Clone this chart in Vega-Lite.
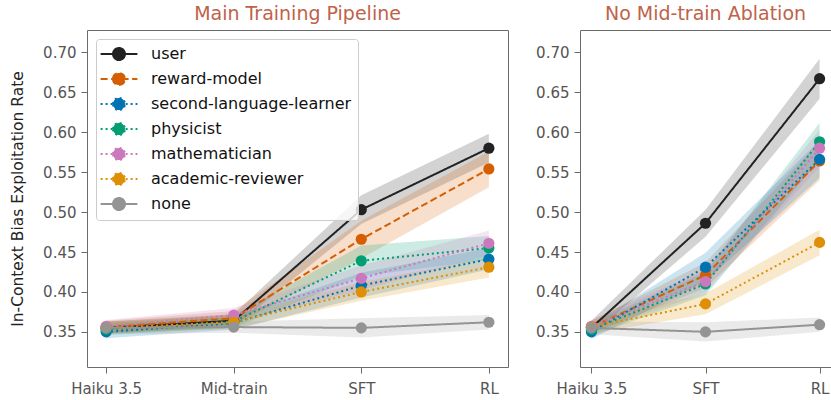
{
  "$schema": "https://vega.github.io/schema/vega-lite/v6.json",
  "padding": {"left": 10, "top": 4, "right": 0, "bottom": 0},
  "config": {
    "font": "DejaVu Sans",
    "view": {"stroke": "#6b6b6b", "strokeWidth": 1},
    "axis": {"grid": false, "domain": false, "tickColor": "#6b6b6b", "tickSize": 6, "labelColor": "#555555", "labelFontSize": 15, "labelPadding": 5, "titleColor": "#222222", "titleFontSize": 15.5, "titleFontWeight": "normal"},
    "axisX": {"labelPadding": 8},
    "title": {"color": "#c0624a", "fontSize": 19, "fontWeight": "normal", "anchor": "middle", "offset": 6}
  },
  "data": {"values": [
    {"p": "main", "s": "Haiku 3.5", "k": "user", "v": 0.355, "lo": 0.348, "hi": 0.363},
    {"p": "main", "s": "Mid-train", "k": "user", "v": 0.364, "lo": 0.356, "hi": 0.372},
    {"p": "main", "s": "SFT", "k": "user", "v": 0.503, "lo": 0.485, "hi": 0.521},
    {"p": "main", "s": "RL", "k": "user", "v": 0.580, "lo": 0.562, "hi": 0.598},
    {"p": "main", "s": "Haiku 3.5", "k": "reward-model", "v": 0.356, "lo": 0.349, "hi": 0.364},
    {"p": "main", "s": "Mid-train", "k": "reward-model", "v": 0.367, "lo": 0.358, "hi": 0.376},
    {"p": "main", "s": "SFT", "k": "reward-model", "v": 0.466, "lo": 0.442, "hi": 0.489},
    {"p": "main", "s": "RL", "k": "reward-model", "v": 0.554, "lo": 0.531, "hi": 0.576},
    {"p": "main", "s": "Haiku 3.5", "k": "second-language-learner", "v": 0.350, "lo": 0.342, "hi": 0.358},
    {"p": "main", "s": "Mid-train", "k": "second-language-learner", "v": 0.361, "lo": 0.353, "hi": 0.369},
    {"p": "main", "s": "SFT", "k": "second-language-learner", "v": 0.408, "lo": 0.393, "hi": 0.424},
    {"p": "main", "s": "RL", "k": "second-language-learner", "v": 0.441, "lo": 0.428, "hi": 0.455},
    {"p": "main", "s": "Haiku 3.5", "k": "physicist", "v": 0.353, "lo": 0.346, "hi": 0.361},
    {"p": "main", "s": "Mid-train", "k": "physicist", "v": 0.363, "lo": 0.355, "hi": 0.371},
    {"p": "main", "s": "SFT", "k": "physicist", "v": 0.439, "lo": 0.420, "hi": 0.458},
    {"p": "main", "s": "RL", "k": "physicist", "v": 0.455, "lo": 0.440, "hi": 0.470},
    {"p": "main", "s": "Haiku 3.5", "k": "mathematician", "v": 0.357, "lo": 0.350, "hi": 0.365},
    {"p": "main", "s": "Mid-train", "k": "mathematician", "v": 0.371, "lo": 0.362, "hi": 0.380},
    {"p": "main", "s": "SFT", "k": "mathematician", "v": 0.417, "lo": 0.402, "hi": 0.433},
    {"p": "main", "s": "RL", "k": "mathematician", "v": 0.461, "lo": 0.446, "hi": 0.477},
    {"p": "main", "s": "Haiku 3.5", "k": "academic-reviewer", "v": 0.355, "lo": 0.348, "hi": 0.363},
    {"p": "main", "s": "Mid-train", "k": "academic-reviewer", "v": 0.362, "lo": 0.354, "hi": 0.370},
    {"p": "main", "s": "SFT", "k": "academic-reviewer", "v": 0.400, "lo": 0.389, "hi": 0.412},
    {"p": "main", "s": "RL", "k": "academic-reviewer", "v": 0.431, "lo": 0.418, "hi": 0.443},
    {"p": "main", "s": "Haiku 3.5", "k": "none", "v": 0.355, "lo": 0.347, "hi": 0.363},
    {"p": "main", "s": "Mid-train", "k": "none", "v": 0.356, "lo": 0.349, "hi": 0.363},
    {"p": "main", "s": "SFT", "k": "none", "v": 0.355, "lo": 0.343, "hi": 0.367},
    {"p": "main", "s": "RL", "k": "none", "v": 0.362, "lo": 0.353, "hi": 0.371},
    {"p": "abl", "s": "Haiku 3.5", "k": "user", "v": 0.355, "lo": 0.346, "hi": 0.364},
    {"p": "abl", "s": "SFT", "k": "user", "v": 0.486, "lo": 0.469, "hi": 0.503},
    {"p": "abl", "s": "RL", "k": "user", "v": 0.667, "lo": 0.642, "hi": 0.692},
    {"p": "abl", "s": "Haiku 3.5", "k": "reward-model", "v": 0.356, "lo": 0.348, "hi": 0.364},
    {"p": "abl", "s": "SFT", "k": "reward-model", "v": 0.421, "lo": 0.405, "hi": 0.437},
    {"p": "abl", "s": "RL", "k": "reward-model", "v": 0.564, "lo": 0.540, "hi": 0.588},
    {"p": "abl", "s": "Haiku 3.5", "k": "second-language-learner", "v": 0.350, "lo": 0.341, "hi": 0.359},
    {"p": "abl", "s": "SFT", "k": "second-language-learner", "v": 0.431, "lo": 0.413, "hi": 0.449},
    {"p": "abl", "s": "RL", "k": "second-language-learner", "v": 0.566, "lo": 0.543, "hi": 0.590},
    {"p": "abl", "s": "Haiku 3.5", "k": "physicist", "v": 0.353, "lo": 0.345, "hi": 0.361},
    {"p": "abl", "s": "SFT", "k": "physicist", "v": 0.410, "lo": 0.396, "hi": 0.425},
    {"p": "abl", "s": "RL", "k": "physicist", "v": 0.588, "lo": 0.565, "hi": 0.612},
    {"p": "abl", "s": "Haiku 3.5", "k": "mathematician", "v": 0.357, "lo": 0.349, "hi": 0.365},
    {"p": "abl", "s": "SFT", "k": "mathematician", "v": 0.413, "lo": 0.399, "hi": 0.428},
    {"p": "abl", "s": "RL", "k": "mathematician", "v": 0.580, "lo": 0.557, "hi": 0.603},
    {"p": "abl", "s": "Haiku 3.5", "k": "academic-reviewer", "v": 0.356, "lo": 0.348, "hi": 0.364},
    {"p": "abl", "s": "SFT", "k": "academic-reviewer", "v": 0.385, "lo": 0.372, "hi": 0.398},
    {"p": "abl", "s": "RL", "k": "academic-reviewer", "v": 0.462, "lo": 0.446, "hi": 0.478},
    {"p": "abl", "s": "Haiku 3.5", "k": "none", "v": 0.355, "lo": 0.347, "hi": 0.363},
    {"p": "abl", "s": "SFT", "k": "none", "v": 0.350, "lo": 0.338, "hi": 0.362},
    {"p": "abl", "s": "RL", "k": "none", "v": 0.359, "lo": 0.350, "hi": 0.368}
  ]},
  "spacing": 26,
  "resolve": {
    "scale": {"x": "independent", "y": "independent", "color": "shared", "strokeDash": "shared"},
    "axis": {"x": "independent", "y": "independent"},
    "legend": {"color": "independent", "strokeDash": "independent"}
  },
  "hconcat": [
    {
      "width": 421,
      "height": 337,
      "title": {"text": "Main Training Pipeline"},
      "transform": [{"filter": "datum.p == 'main'"}],
      "encoding": {
        "x": {"field": "s", "type": "ordinal", "sort": ["Haiku 3.5", "Mid-train", "SFT", "RL"], "scale": {"type": "point", "padding": 0.15}, "axis": {"title": null, "labelAngle": 0}},
        "y": {"field": "v", "type": "quantitative", "scale": {"domain": [0.306, 0.728], "nice": false, "zero": false}, "axis": {"title": "In-Context Bias Exploitation Rate", "values": [0.35, 0.4, 0.45, 0.5, 0.55, 0.6, 0.65, 0.7], "format": ".2f", "titlePadding": 17}},
        "color": {
          "field": "k", "type": "nominal",
          "scale": {"domain": ["user", "reward-model", "second-language-learner", "physicist", "mathematician", "academic-reviewer", "none"], "range": ["#222222", "#d55e00", "#0173b2", "#029e73", "#cc78bc", "#de8f05", "#949494"]},
          "legend": {
            "title": null, "orient": "top-left", "offset": 9, "zindex": 1,
            "fillColor": "rgba(255,255,255,0.8)", "strokeColor": "#cccccc", "cornerRadius": 3, "padding": 6,
            "labelFontSize": 16, "labelColor": "#111111", "labelLimit": 0,
            "symbolType": "M-2.3,0L2.3,0M-0.75,0A0.75,0.75,0,1,1,0.75,0A0.75,0.75,0,1,1,-0.75,0Z",
            "symbolSize": 256, "symbolStrokeWidth": 2, "symbolOffset": 8, "labelOffset": 23, "rowPadding": 5, "symbolOpacity": 1,
            "encode": {"symbols": {"update": {
              "fill": {"scale": "color", "field": "value"},
              "stroke": {"scale": "color", "field": "value"},
              "strokeDash": {"scale": "strokeDash", "field": "value"},
              "opacity": {"value": 1}
            }}}
          }
        }
      },
      "layer": [
        {"mark": {"type": "area", "opacity": 0.2}, "encoding": {"y": {"field": "lo", "type": "quantitative", "scale": {"domain": [0.306, 0.728], "nice": false, "zero": false}, "axis": {"title": "In-Context Bias Exploitation Rate", "values": [0.35, 0.4, 0.45, 0.5, 0.55, 0.6, 0.65, 0.7], "format": ".2f", "titlePadding": 17}}, "y2": {"field": "hi"}}},
        {"mark": {"type": "line", "strokeWidth": 2}, "encoding": {"strokeDash": {"field": "k", "type": "nominal", "scale": {"domain": ["user", "reward-model", "second-language-learner", "physicist", "mathematician", "academic-reviewer", "none"], "range": [[1, 0], [7, 3.5], [2, 3], [2, 3], [2, 3], [2, 3], [1, 0]]}, "legend": null}}},
        {"mark": {"type": "point", "filled": true, "size": 125, "opacity": 1}, "encoding": {}}
      ]
    },
    {
      "width": 251,
      "height": 337,
      "title": {"text": "No Mid-train Ablation"},
      "transform": [{"filter": "datum.p == 'abl'"}],
      "encoding": {
        "x": {"field": "s", "type": "ordinal", "sort": ["Haiku 3.5", "SFT", "RL"], "scale": {"type": "point", "padding": 0.1}, "axis": {"title": null, "labelAngle": 0}},
        "y": {"field": "v", "type": "quantitative", "scale": {"domain": [0.306, 0.728], "nice": false, "zero": false}, "axis": {"title": null, "values": [0.35, 0.4, 0.45, 0.5, 0.55, 0.6, 0.65, 0.7], "format": ".2f"}},
        "color": {"field": "k", "type": "nominal", "legend": null}
      },
      "layer": [
        {"mark": {"type": "area", "opacity": 0.2}, "encoding": {"y": {"field": "lo", "type": "quantitative", "scale": {"domain": [0.306, 0.728], "nice": false, "zero": false}, "axis": {"title": null, "values": [0.35, 0.4, 0.45, 0.5, 0.55, 0.6, 0.65, 0.7], "format": ".2f"}}, "y2": {"field": "hi"}}},
        {"mark": {"type": "line", "strokeWidth": 2}, "encoding": {"strokeDash": {"field": "k", "type": "nominal", "legend": null}}},
        {"mark": {"type": "point", "filled": true, "size": 125, "opacity": 1}, "encoding": {}}
      ]
    }
  ]
}
